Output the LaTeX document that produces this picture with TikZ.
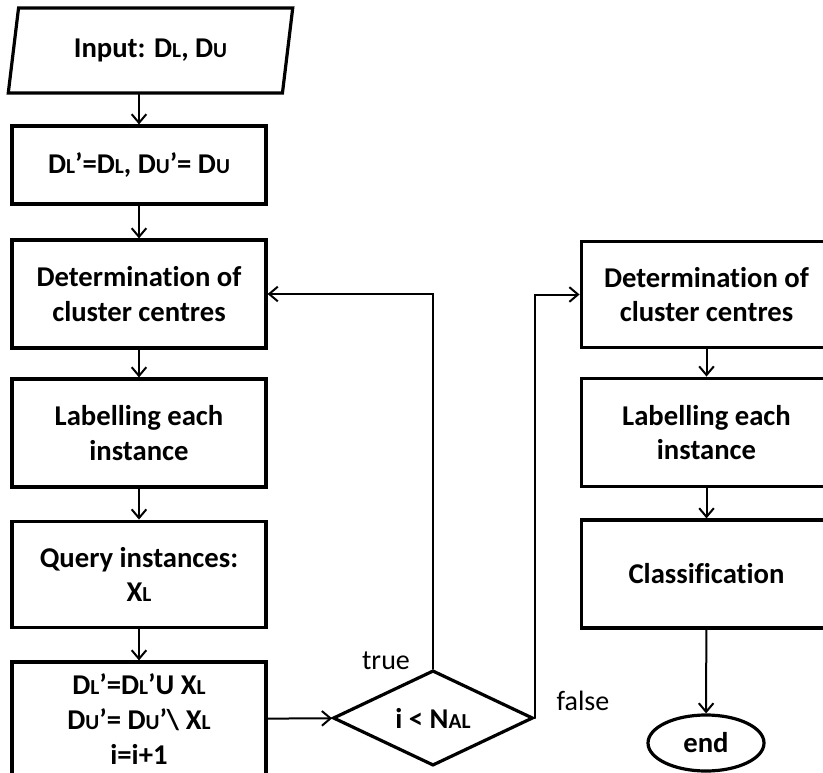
\documentclass[tikz,border=0pt]{standalone}
\usepackage{fontspec}
\setmainfont{Carlito}[Ligatures=NoCommon]
\usepackage{tikz}
\usetikzlibrary{arrows.meta,shapes.geometric}

\newcommand{\lo}[1]{{\fontsize{16}{20}\selectfont #1}}

\begin{document}
\begin{tikzpicture}[x=0.75pt,y=-0.75pt,>={Straight Barb[length=6.5pt,width=11pt]},
  font=\fontsize{21}{26}\selectfont,line cap=round,
  stepbox/.style={draw,line width=2.4pt,align=center,font=\fontsize{21.5}{26}\selectfont\bfseries,
    minimum width=190.5pt,inner sep=0pt},
  flow/.style={->,line width=1.5pt}]
\useasboundingbox (0,0) rectangle (823,773);
\node[draw,line width=2.4pt,trapezium,trapezium left angle=75.5,trapezium right angle=104.5,
  trapezium stretches=true,minimum width=213.75pt,minimum height=63.75pt,inner sep=0pt,
  font=\fontsize{21.5}{26}\selectfont\bfseries] (input) at (150.5,50.5) {Input: D\lo{L}, D\lo{U}};
\node[stepbox,minimum height=58.5pt] (init) at (139,165) {D\lo{L}’=D\lo{L}, D\lo{U}’= D\lo{U}};
\node[stepbox,minimum height=81pt] (det) at (139,294) {Determination of\\cluster centres};
\node[stepbox,minimum height=81pt] (lab) at (139,433) {Labelling each\\instance};
\node[stepbox,minimum height=80pt] (query) at (139,574.5) {Query instances:\\X\lo{L}};
\node[stepbox,minimum height=85.5pt] (upd) at (139,719) {D\lo{L}’=D\lo{L}’U X\lo{L}\\D\lo{U}’= D\lo{U}’\textbackslash{} X\lo{L}\\i=i+1};
\node[draw,diamond,line width=2.4pt,minimum width=150pt,minimum height=59pt,inner sep=0pt,
  font=\fontsize{21.5}{26}\selectfont\bfseries] (cond) at (433,718) {i < N\lo{AL}};
\node[stepbox,minimum width=188pt,minimum height=80pt] (rdet) at (706.5,294.5) {Determination of\\cluster centres};
\node[stepbox,minimum width=188pt,minimum height=81.5pt] (rlab) at (706.5,432.5) {Labelling each\\instance};
\node[stepbox,minimum width=188pt,minimum height=81pt] (cls) at (706.5,574) {Classification};
\node[draw,ellipse,line width=2.4pt,minimum width=87pt,minimum height=42pt,inner sep=0pt,
  font=\fontsize{21.5}{26}\selectfont\bfseries] (end) at (706,743) {end};
\node (true) at (386,661) {true};
\node (false) at (583,701) {false};

\draw[flow] (input.south -| init.north) -- (init.north);
\draw[flow] (init) -- (det);
\draw[flow] (det) -- (lab);
\draw[flow] (lab) -- (query);
\draw[flow] (query) -- (upd);
\draw[flow] (upd) -- (cond);
\draw[flow] (cond.north) |- (det.east);
\draw[flow] (cond.east) |- (rdet.west);
\draw[flow] (rdet) -- (rlab);
\draw[flow] (rlab) -- (cls);
\draw[flow] (cls) -- (end);
\end{tikzpicture}
\end{document}
